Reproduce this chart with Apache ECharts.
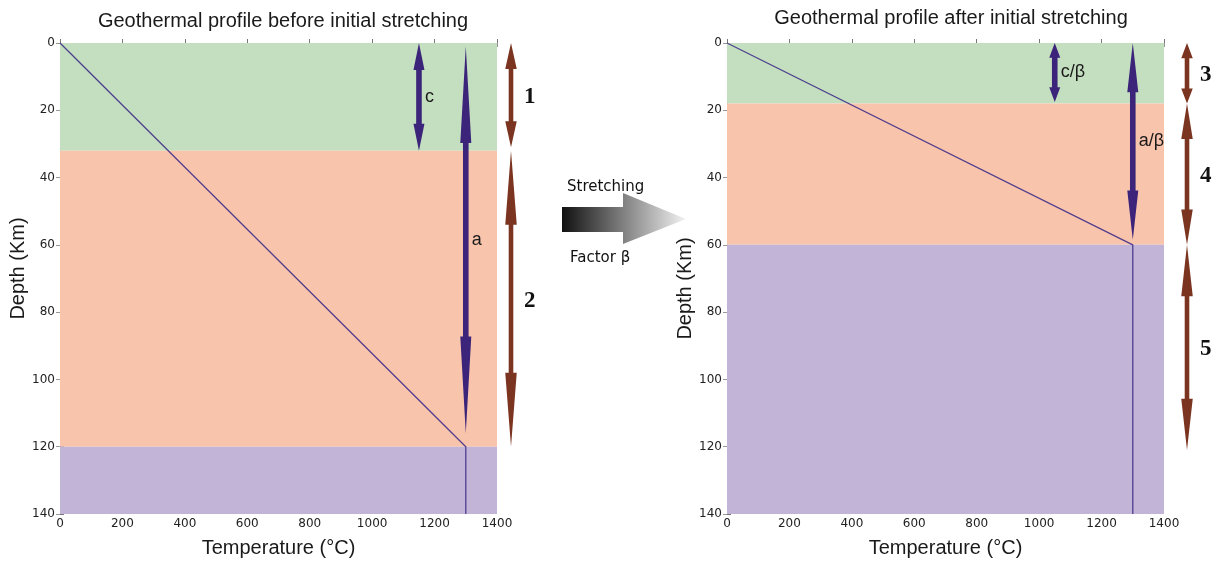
<!DOCTYPE html>
<html>
<head>
<meta charset="utf-8">
<script src="https://cdn.jsdelivr.net/npm/echarts@6/dist/echarts.min.js"></script>
<style>
  html, body { margin: 0; padding: 0; background: #ffffff; }
  #chart { width: 1224px; height: 563px; }
</style>
</head>
<body>
<div id="chart"></div>
<script>
// Axis ticks
const temperatureTicks = [0, 200, 400, 600, 800, 1000, 1200, 1400];
const depthTicks = [0, 20, 40, 60, 80, 100, 120, 140];

// Layer boundaries in km: surface, base of crust, base of lithosphere, bottom of section
const layersBefore = [0, 32, 120, 140];
const layersAfter = [0, 18, 60, 140];

// Geotherms: [temperature °C, depth km]
const geothermBefore = [[0, 0], [1300, 120], [1300, 140]];
const geothermAfter = [[0, 0], [1300, 60], [1300, 140]];

// Thickness markers inside the plots: [temperature °C, top depth km, bottom depth km]
const markersBefore = [[1150, 0, 32], [1300, 1, 116]];
const markerLabelsBefore = ['c', 'a'];
const markersAfter = [[1050, 0, 17.5], [1300, 0, 58.5]];
const markerLabelsAfter = ['c/β', 'a/β'];

// Numbered units beside the plots: [top depth km, bottom depth km]
const unitsBefore = [[0, 31], [32, 120]];
const unitLabelsBefore = ['1', '2'];
const unitsAfter = [[0, 18], [18, 60], [60, 121]];
const unitLabelsAfter = ['3', '4', '5'];

const LAYER_COLORS = ['#c4dfbf', '#f9c4ac', '#c1b4d6'];
const MARKER_COLOR = '#3b2479';
const UNIT_COLOR = '#7a3420';
const LINE_COLOR = '#40308a';
const SPINE = '#8c8c8c';
const SANS = '"Liberation Sans", Arial, sans-serif';
const TICK_FONT = '"DejaVu Sans", sans-serif';

const chart = echarts.init(document.getElementById('chart'), null, { renderer: 'canvas' });

const grids = [
  { left: 60, top: 43, width: 437, height: 471 },
  { left: 727, top: 43, width: 437, height: 471 }
];

function doubleArrow(cx, yTop, yBot, shaftW, headW, color) {
  const h = (yBot - yTop) * 0.25;
  const s = shaftW / 2, w = headW / 2;
  return {
    type: 'polygon',
    shape: {
      points: [
        [cx, yTop], [cx + w, yTop + h], [cx + s, yTop + h], [cx + s, yBot - h],
        [cx + w, yBot - h], [cx, yBot], [cx - w, yBot - h], [cx - s, yBot - h],
        [cx - s, yTop + h], [cx - w, yTop + h]
      ]
    },
    style: { fill: color }
  };
}

function xAxisFor(i) {
  return [{
    gridIndex: i, type: 'value', min: 0, max: 1400, interval: 200,
    axisLine: { show: true, lineStyle: { color: SPINE, width: 1 } },
    axisTick: { show: true, inside: true, length: 4, lineStyle: { color: '#777' } },
    axisLabel: {
      fontSize: 12, color: '#222', fontFamily: TICK_FONT, margin: 4,
      formatter: v => temperatureTicks.includes(v) ? String(v) : ''
    },
    splitLine: { show: false },
    name: 'Temperature (°C)', nameLocation: 'middle', nameGap: 24,
    nameTextStyle: { fontSize: 20, fontFamily: SANS, color: '#1a1a1a' }
  }, {
    gridIndex: i, type: 'value', min: 0, max: 1400, interval: 200, position: 'top',
    axisLine: { show: true, lineStyle: { color: '#b0b0b0', width: 1 } },
    axisTick: { show: true, inside: true, length: 4, lineStyle: { color: '#999' } },
    axisLabel: { show: false }, splitLine: { show: false }
  }];
}

function yAxisFor(i, namePadding) {
  return [{
    gridIndex: i, type: 'value', min: 0, max: 140, interval: 20, inverse: true,
    axisLine: { show: true, lineStyle: { color: SPINE, width: 1 } },
    axisTick: { show: true, inside: true, length: 4, lineStyle: { color: '#777' } },
    axisLabel: {
      fontSize: 12, color: '#222', fontFamily: TICK_FONT, margin: 5,
      formatter: v => depthTicks.includes(v) ? String(v) : ''
    },
    splitLine: { show: false },
    name: 'Depth (Km)', nameLocation: 'middle', nameGap: 30, nameRotate: 90,
    nameTextStyle: { fontSize: 20, fontFamily: SANS, color: '#1a1a1a', padding: namePadding }
  }, {
    gridIndex: i, type: 'value', min: 0, max: 140, interval: 20, inverse: true, position: 'right',
    axisLine: { show: true, lineStyle: { color: '#b0b0b0', width: 1 } },
    axisTick: { show: true, inside: true, length: 4, lineStyle: { color: '#999' } },
    axisLabel: { show: false }, splitLine: { show: false }
  }];
}

function layerSeries(i, bounds) {
  const data = [];
  for (let k = 0; k < bounds.length - 1; k++) data.push([bounds[k], bounds[k + 1], k]);
  return {
    type: 'custom', xAxisIndex: i * 2, yAxisIndex: i * 2, silent: true, z: 1,
    encode: { y: [0, 1] },
    data,
    renderItem(params, api) {
      const p0 = api.coord([0, api.value(0)]);
      const p1 = api.coord([1400, api.value(1)]);
      return {
        type: 'rect',
        shape: { x: p0[0], y: p0[1], width: p1[0] - p0[0], height: p1[1] - p0[1] },
        style: { fill: LAYER_COLORS[api.value(2)] }
      };
    }
  };
}

function geothermSeries(i, pts) {
  return {
    type: 'line', xAxisIndex: i * 2, yAxisIndex: i * 2, data: pts, z: 3,
    symbol: 'none', silent: true, animation: false,
    lineStyle: { color: LINE_COLOR, width: 1.3, opacity: 0.9 }
  };
}

function markerSeries(i, markers, labels) {
  return {
    type: 'custom', xAxisIndex: i * 2, yAxisIndex: i * 2, silent: true, z: 4,
    encode: { x: 0, y: [1, 2] },
    data: markers.map((m, k) => [m[0], m[1], m[2], k]),
    renderItem(params, api) {
      const top = api.coord([api.value(0), api.value(1)]);
      const bot = api.coord([api.value(0), api.value(2)]);
      return {
        type: 'group',
        children: [
          doubleArrow(top[0], top[1], bot[1], 5.6, 11, MARKER_COLOR),
          {
            type: 'text',
            style: {
              x: top[0] + 6, y: (top[1] + bot[1]) / 2,
              text: labels[api.value(3)], fill: '#1a1a1a',
              font: '18px ' + SANS, align: 'left', verticalAlign: 'middle'
            }
          }
        ]
      };
    }
  };
}

function unitSeries(i, units, labels, offsetPx) {
  return {
    type: 'custom', xAxisIndex: i * 2, yAxisIndex: i * 2, silent: true, z: 4,
    encode: { y: [0, 1] },
    data: units.map((u, k) => [u[0], u[1], k]),
    renderItem(params, api) {
      const top = api.coord([1400, api.value(0)]);
      const bot = api.coord([1400, api.value(1)]);
      const cx = top[0] + offsetPx;
      return {
        type: 'group',
        children: [
          doubleArrow(cx, top[1], bot[1], 4.6, 11.5, UNIT_COLOR),
          {
            type: 'text',
            style: {
              x: cx + 13, y: (top[1] + bot[1]) / 2 + 2,
              text: labels[api.value(2)], fill: '#111',
              font: 'bold 23px "Liberation Serif", "DejaVu Serif", serif',
              align: 'left', verticalAlign: 'middle'
            }
          }
        ]
      };
    }
  };
}

const option = {
  animation: false,
  backgroundColor: '#ffffff',
  title: [
    {
      text: 'Geothermal profile before initial stretching', left: 278, top: 6, textAlign: 'center',
      textStyle: { fontSize: 20, fontWeight: 'normal', fontFamily: SANS, color: '#1a1a1a' }
    },
    {
      text: 'Geothermal profile after initial stretching', left: 946, top: 3, textAlign: 'center',
      textStyle: { fontSize: 20, fontWeight: 'normal', fontFamily: SANS, color: '#1a1a1a' }
    }
  ],
  grid: grids,
  xAxis: [...xAxisFor(0), ...xAxisFor(1)],
  yAxis: [...yAxisFor(0, [0, 0, 0, 20]), ...yAxisFor(1, [0, 20, 0, 0])],
  series: [
    layerSeries(0, layersBefore),
    geothermSeries(0, geothermBefore),
    markerSeries(0, markersBefore, markerLabelsBefore),
    unitSeries(0, unitsBefore, unitLabelsBefore, 14),
    layerSeries(1, layersAfter),
    geothermSeries(1, geothermAfter),
    markerSeries(1, markersAfter, markerLabelsAfter),
    unitSeries(1, unitsAfter, unitLabelsAfter, 23)
  ],
  graphic: [
    {
      type: 'polygon', z: 10,
      shape: { points: [[562, 207], [623, 207], [623, 193], [686, 219], [623, 244], [623, 232], [562, 232]] },
      style: {
        fill: new echarts.graphic.LinearGradient(0, 0, 1, 0, [
          { offset: 0, color: '#111111' },
          { offset: 1, color: '#f2f2f2' }
        ])
      }
    },
    {
      type: 'text', z: 10,
      style: { x: 567, y: 187, text: 'Stretching', fill: '#111', font: '15px "DejaVu Sans", sans-serif', verticalAlign: 'middle' }
    },
    {
      type: 'text', z: 10,
      style: { x: 570, y: 258, text: 'Factor β', fill: '#111', font: '15px "DejaVu Sans", sans-serif', verticalAlign: 'middle' }
    }
  ]
};

chart.setOption(option);
</script>
</body>
</html>
